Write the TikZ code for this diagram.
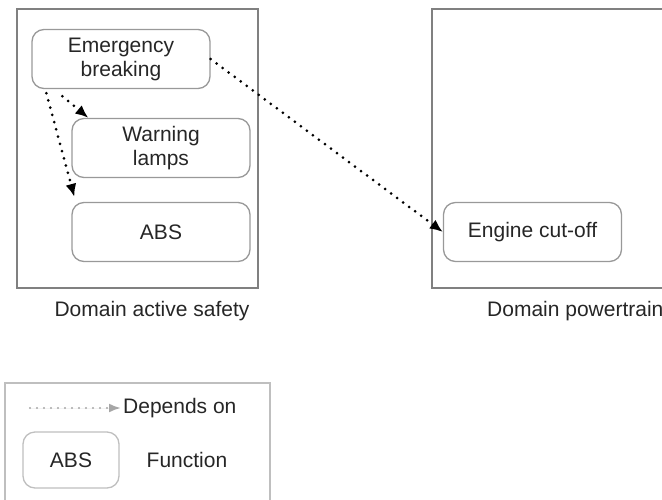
\documentclass[tikz,border=0pt]{standalone}
\usepackage{fontspec}
\setmainfont{Liberation Sans}
\usetikzlibrary{arrows.meta}

\begin{document}
\begin{tikzpicture}[x=1pt, y=-1pt]
        \tikzstyle{every node}=[font=\fontsize{21}{24}\selectfont, text=black!85]
        \tikzstyle{domainbox}=[draw=black!50, line width=1.6pt, minimum height=279pt]
        \tikzstyle{func}=[draw=black!40, line width=1.3pt, rounded corners=12pt, minimum width=178pt, minimum height=59pt, align=center]
        \tikzstyle{dep}=[line width=3pt, line cap=round, dash pattern=on 0pt off 7.5pt, -{Latex[length=13pt,width=11pt]}]

        \clip (0,0) rectangle (662,499);

% The two domains with their functions

        \node[domainbox, minimum width=241pt] (safety) at (137.5,148.5) {};
        \node[domainbox, minimum width=270pt] (power) at (567,148.5) {};
        \node (safetylabel) at (152,311) {Domain active safety};
        \node[anchor=west, inner sep=0pt] (powerlabel) at (487,311) {Domain powertrain};

        \node[func] (eb) at (121,59) {Emergency\\breaking};
        \node[func] (wl) at (161,148) {Warning\\lamps};
        \node[func] (abs) at (161,232) {ABS};
        \node[func] (ec) at (532.5,232) {Engine cut-off};

        \draw[dep] ([xshift=15pt,yshift=-4pt]eb.south west) -- ([xshift=3pt,yshift=5pt]abs.north west);
        \draw[dep] ([xshift=31pt,yshift=-7pt]eb.south west) -- ([xshift=17pt]wl.north west);
        \draw[dep] (eb.east) -- (ec.west);

% Legend

        \node[draw=black!25, line width=1.2pt, minimum width=265pt, minimum height=140pt] (legend) at (137.5,453) {};
        \coordinate (depfrom) at (30,408);
        \coordinate (depto) at (121,408);
        \draw[dep, draw=black!35, fill=black!35, line width=2.2pt, dash pattern=on 0pt off 7pt, -{Latex[length=12pt,width=9pt]}] (depfrom) -- (depto);
        \node[anchor=west, inner sep=2pt] (deptext) at (depto) {Depends on};
        \node[func, draw=black!25, minimum width=96pt, minimum height=56pt] (absleg) at (71,460) {ABS};
        \node (functext) at (187,460) {Function};

    \end{tikzpicture}
\end{document}
